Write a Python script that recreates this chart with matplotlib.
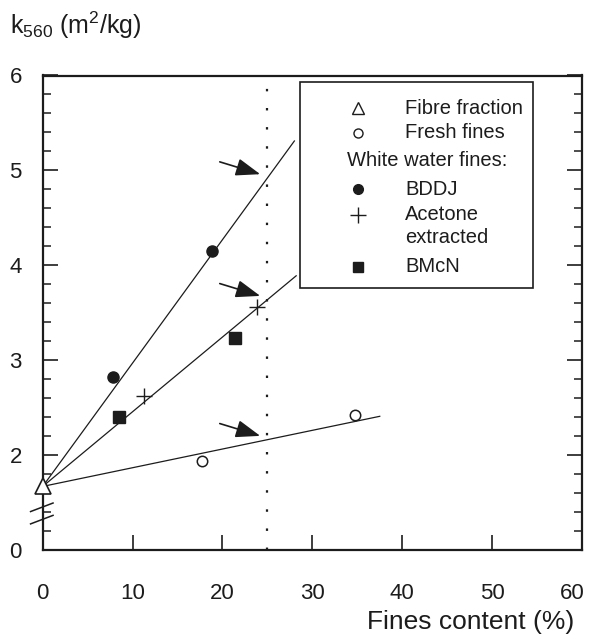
import numpy as np
import matplotlib
matplotlib.use("Agg")
import matplotlib.pyplot as plt
import matplotlib.transforms as mtransforms

plt.rcParams['font.family'] = ['Liberation Sans', 'DejaVu Sans']
plt.rcParams['mathtext.default'] = 'regular'

INK = '#1c1c1c'

# Measured points (fines content %, k560 m2/kg)
fibre_x = [0.0]
fibre_y = [1.67]
fresh_x = [17.7, 34.7]
fresh_y = [1.94, 2.42]
bddj_x = [7.8, 18.8]
bddj_y = [2.82, 4.15]
acetone_x = [11.3, 23.8]
acetone_y = [2.62, 3.56]
bmcn_x = [8.5, 21.4]
bmcn_y = [2.40, 3.23]

# Straight lines from the fibre fraction value: BDDJ, acetone/BMcN, fresh fines
fit_intercept = 1.67
fit_slopes = [0.130, 0.0787, 0.0197]
fit_xmax = [28.0, 28.2, 37.5]
marker_x = 25  # fines content marked by the dotted line

y_ticks = [1, 2, 3, 4, 5, 6]
y_ticklabels = ['0', '2', '3', '4', '5', '6']
x_ticks = [0, 10, 20, 30, 40, 50, 60]

W, H = 589, 639
fig = plt.figure(figsize=(W / 100, H / 100), dpi=100)
ax = fig.add_axes([42.7 / W, 1 - 550 / H, (582 - 42.7) / W, (550 - 75.5) / H])


def px(x, y):
    return x / W, 1 - y / H


# fitted lines
for slope, xmax in zip(fit_slopes, fit_xmax):
    xs = np.array([0, xmax])
    ax.plot(xs, fit_intercept + slope * xs, color=INK, lw=0.9)

# dotted marker line
ax.axvline(marker_x, color=INK, lw=1.6, linestyle=(0, (1.1, 7.5)))

# arrows pointing to where each line crosses the dotted line
for slope in fit_slopes:
    yt = fit_intercept + slope * marker_x + 0.04
    xt = marker_x - 0.8
    ax.annotate('', xy=(xt, yt), xytext=(xt - 4.5, yt + 0.13),
                arrowprops=dict(arrowstyle='-|>,head_length=0.75,head_width=0.27',
                                color=INK, lw=1.2, shrinkA=0, shrinkB=0,
                                mutation_scale=20))

# data markers
ax.plot(fibre_x, fibre_y, '^', ms=11, mfc='white', mec=INK, mew=1.2, clip_on=False, zorder=5)
ax.plot(fresh_x, fresh_y, 'o', ms=7.5, mfc='white', mec=INK, mew=1.1, zorder=5)
ax.plot(bddj_x, bddj_y, 'o', ms=8, color=INK, zorder=5)
ax.plot(acetone_x, acetone_y, '+', ms=12, mew=1.0, color=INK, zorder=5)
ax.plot(bmcn_x, bmcn_y, 's', ms=8.5, color=INK, zorder=5)

# axis break marks
for y0 in (1.405, 1.275):
    ax.plot([-1.35, 1.15], [y0, y0 + 0.09], color=INK, lw=1.1, clip_on=False)

ax.set_xlim(0, 60)
ax.set_ylim(1, 6)
ax.set_xticks(x_ticks)
ax.set_yticks(y_ticks)
ax.set_yticklabels(y_ticklabels)
minor = [v for v in np.arange(1.2, 6.0, 0.2) if abs(v - round(v)) > 0.05]
ax.set_yticks(minor, minor=True)

for s in ax.spines.values():
    s.set_linewidth(1.6)
    s.set_color(INK)
ax.tick_params(axis='x', direction='in', length=11, width=1.2, colors=INK,
               labelsize=16, pad=24, top=False)
ax.tick_params(axis='y', which='major', direction='in', length=11, width=1.2,
               colors=INK, labelsize=16, pad=15, left=True, right=True)
ax.tick_params(axis='y', which='minor', direction='in', length=5.5, width=1.1,
               colors=INK, left=True, right=True)

# keep the last x label inside the figure
last = ax.get_xticklabels()[-1]
last.set_transform(last.get_transform() +
                   mtransforms.ScaledTranslation(-10 / 100, 0, fig.dpi_scale_trans))

# axis titles
fig.text(*px(10, 34), 'k$_{560}$ (m$^2$/kg)', fontsize=18, color=INK, va='baseline')
fig.text(*px(574, 629), 'Fines content (%)', fontsize=19, color=INK,
         ha='right', va='baseline')

# legend box
box = plt.Rectangle(px(300, 288), 233 / W, 206 / H, transform=fig.transFigure,
                    fill=True, facecolor='white', edgecolor=INK, lw=1.2, zorder=10)
fig.add_artist(box)
legend_rows = [
    ('^', 'white', 108, 'Fibre fraction'),
    ('o', 'white', 133, 'Fresh fines'),
    ('o', INK, 189, 'BDDJ'),
    ('+', INK, 226, 'Acetone\nextracted'),
    ('s', INK, 267, 'BMcN'),
]
for mk, fc, y, label in legend_rows:
    size = {'^': 8.5, 'o': 6.5, '+': 11, 's': 7.5}[mk]
    if mk == 'o' and fc == INK:
        size = 7
    marker_y = 215 if mk == '+' else y
    fig.add_artist(plt.Line2D([358 / W], [1 - marker_y / H], marker=mk, ms=size, mfc=fc,
                              mec=INK, mew=1.0, color=INK, linestyle='none',
                              transform=fig.transFigure, zorder=11))
    fig.text(*px(405, y), label, fontsize=14.5, color=INK, va='center',
             linespacing=1.3, zorder=11)
fig.text(*px(347, 160), 'White water fines:', fontsize=14.5, color=INK,
         va='center', zorder=11)

fig.savefig('out.png', dpi=100)
